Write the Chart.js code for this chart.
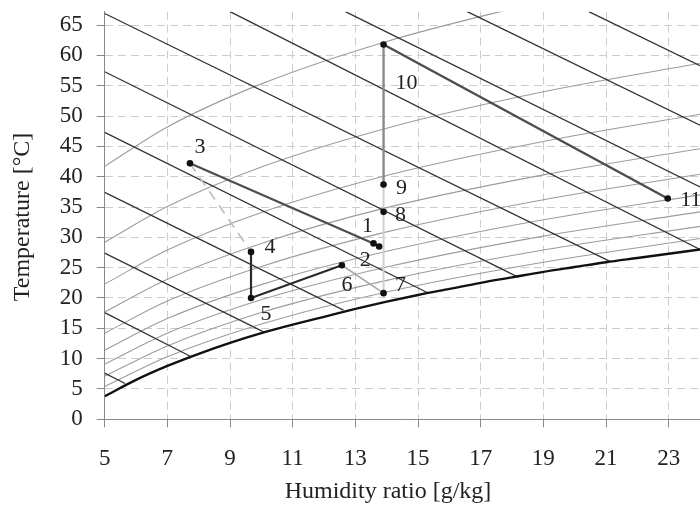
<!DOCTYPE html>
<html>
<head>
<meta charset="utf-8">
<script src="https://cdn.jsdelivr.net/npm/chart.js@4"></script>
<style>
  html, body { margin: 0; padding: 0; background: #fff; }
</style>
</head>
<body>
<canvas id="psychroChart" width="700" height="511"></canvas>
<script>
const X_TICKS = [5, 7, 9, 11, 13, 15, 17, 19, 21, 23];
const Y_TICKS = [0, 5, 10, 15, 20, 25, 30, 35, 40, 45, 50, 55, 60, 65];

// saturation curve (RH 100%)
const SAT_W = [5, 6, 7, 8, 9, 10, 11, 12, 13, 14, 15, 16, 17, 18, 19, 20, 21, 22, 23, 24];
const SAT_T = [3.8, 6.5, 8.8, 10.8, 12.6, 14.2, 15.6, 16.9, 18.2, 19.4, 20.5, 21.5, 22.5, 23.4, 24.3, 25.1, 25.9, 26.6, 27.3, 28.0];

// relative humidity curves 10% .. 90%
const RH_W = [5, 7, 10, 14, 19, 24];
const RH10 = [41.7, 48.2, 55.3, 62.3, 69.0];
const RH20 = [29.2, 35.1, 41.6, 48.0, 54.0, 58.7];
const RH30 = [22.3, 27.9, 34.1, 40.2, 45.8, 50.3];
const RH40 = [17.7, 23.1, 29.0, 34.9, 40.3, 44.6];
const RH50 = [14.2, 19.5, 25.2, 30.9, 36.2, 40.4];
const RH60 = [11.4, 16.6, 22.2, 27.7, 32.9, 37.0];
const RH70 = [9.1, 14.2, 19.7, 25.1, 30.2, 34.2];
const RH80 = [7.1, 12.1, 17.6, 22.9, 27.9, 31.8];
const RH90 = [5.4, 10.3, 15.7, 21.0, 25.9, 29.8];

// constant enthalpy lines (20 .. 120 kJ/kg), start and end
const ENTH_W0 = [5, 5, 5, 5, 5, 5, 5, 9.0, 12.68, 16.57, 20.45];
const ENTH_T0 = [7.6, 17.6, 27.4, 37.4, 47.3, 57.3, 66.9, 67.2, 67.2, 67.2, 67.2];
const ENTH_W1 = [5.65, 7.73, 10.07, 12.62, 15.29, 18.21, 21.14, 24, 24, 24, 24];
const ENTH_T1 = [5.9, 10.4, 14.4, 18.0, 20.9, 23.4, 26.0, 28.0, 38.3, 48.5, 58.3];

// process states
const STATE_LABELS = ['1', '2', '3', '4', '5', '6', '7', '8', '9', '10', '11'];
const STATE_W = [13.58, 13.76, 7.72, 9.67, 9.67, 12.57, 13.9, 13.9, 13.9, 13.9, 22.97];
const STATE_T = [29.0, 28.5, 42.2, 27.6, 20.0, 25.4, 20.8, 34.2, 38.7, 61.8, 36.4];

// process paths between states (1-based)
const PATH_FROM = [3, 1, 3, 4, 5, 6, 7, 8, 9, 10];
const PATH_TO = [1, 2, 4, 5, 6, 7, 8, 9, 10, 11];

const pathStyle = [
    {color: '#4d4d4d', width: 2.2},
    {color: '#333333', width: 2},
    {color: '#bdbdbd', width: 1.6, dash: [10, 7]},
    {color: '#2b2b2b', width: 2.2},
    {color: '#2b2b2b', width: 2.2},
    {color: '#a8a8a8', width: 1.6},
    {color: '#d0d0d0', width: 2},
    {color: '#d0d0d0', width: 2},
    {color: '#8a8a8a', width: 2.4},
    {color: '#4d4d4d', width: 2.4}
];

// label nudges in px, per state
const labelNudge = [[-6, -17], [-14, 14], [10, -16], [19, -5], [15, 16], [5, 20],
                    [17, -8], [17, 3], [18, 4], [23, 39], [23, 2]];

Chart.defaults.font.family = "'Liberation Serif', 'DejaVu Serif', serif";
Chart.defaults.font.size = 23;
Chart.defaults.color = '#222';

function toPoints(ws, ts) {
    return ts.map((t, i) => ({x: ws[i], y: t}));
}

const datasets = [];

for (let rh of [RH10, RH20, RH30, RH40, RH50, RH60, RH70, RH80, RH90]) {
    datasets.push({
        data: toPoints(RH_W, rh),
        showLine: true,
        borderColor: '#9c9c9c',
        borderWidth: 1.1,
        pointRadius: 0,
        cubicInterpolationMode: 'monotone',
        order: 50
    });
}

for (let i = 0; i < ENTH_W0.length; i++) {
    datasets.push({
        data: [{x: ENTH_W0[i], y: ENTH_T0[i]}, {x: ENTH_W1[i], y: ENTH_T1[i]}],
        showLine: true,
        borderColor: '#333333',
        borderWidth: 1.3,
        pointRadius: 0,
        order: 40
    });
}

datasets.push({
    data: toPoints(SAT_W, SAT_T),
    showLine: true,
    borderColor: '#111111',
    borderWidth: 2.4,
    pointRadius: 0,
    cubicInterpolationMode: 'monotone',
    order: 30
});

for (let i = 0; i < PATH_FROM.length; i++) {
    const a = PATH_FROM[i] - 1;
    const b = PATH_TO[i] - 1;
    const st = pathStyle[i];
    datasets.push({
        data: [{x: STATE_W[a], y: STATE_T[a]}, {x: STATE_W[b], y: STATE_T[b]}],
        showLine: true,
        borderColor: st.color,
        borderWidth: st.width,
        borderDash: st.dash || [],
        pointRadius: 0,
        order: 20
    });
}

datasets.push({
    data: toPoints(STATE_W, STATE_T),
    showLine: false,
    pointRadius: 3.3,
    pointBackgroundColor: '#111',
    pointBorderWidth: 0,
    order: 10
});

const stateLabels = {
    id: 'stateLabels',
    afterDatasetsDraw(chart) {
        const {ctx, scales: {x, y}} = chart;
        ctx.save();
        ctx.font = "22px 'Liberation Serif', serif";
        ctx.fillStyle = '#222';
        ctx.textAlign = 'center';
        ctx.textBaseline = 'middle';
        STATE_LABELS.forEach((lab, i) => {
            const px = x.getPixelForValue(STATE_W[i]) + labelNudge[i][0];
            const py = y.getPixelForValue(STATE_T[i]) + labelNudge[i][1];
            ctx.fillText(lab, px, py);
        });
        ctx.restore();
    }
};

const axisTitles = {
    id: 'axisTitles',
    afterDraw(chart) {
        const ctx = chart.ctx;
        ctx.save();
        ctx.font = "24px 'Liberation Serif', serif";
        ctx.fillStyle = '#222';
        ctx.textAlign = 'center';
        ctx.textBaseline = 'middle';
        ctx.fillText('Humidity ratio [g/kg]', 388, 492);
        ctx.translate(23, 217);
        ctx.rotate(-Math.PI / 2);
        ctx.fillText('Temperature [°C]', 0, 0);
        ctx.restore();
    }
};

const psychroChart = new Chart(document.getElementById('psychroChart'), {
    type: 'scatter',
    data: {datasets: datasets},
    options: {
        responsive: false,
        animation: false,
        devicePixelRatio: 1,
        layout: {autoPadding: false, padding: {top: 11.7, right: 0, left: 0, bottom: 0}},
        plugins: {legend: {display: false}, tooltip: {enabled: false}},
        scales: {
            x: {
                type: 'linear',
                min: 5,
                max: 24,
                afterBuildTicks: (scale) => { scale.ticks = X_TICKS.map(v => ({value: v})); },
                afterFit: (scale) => {
                    scale.height = 91.7;
                    scale.paddingLeft = 0;
                    scale.paddingRight = 0;
                },
                ticks: {padding: 18, maxRotation: 0, autoSkip: false},
                grid: {color: '#cccccc', lineWidth: 1, tickColor: '#888', tickLength: 8},
                border: {color: '#888', width: 1, dash: [8, 5]}
            },
            y: {
                type: 'linear',
                min: 0,
                max: 67.2,
                afterBuildTicks: (scale) => { scale.ticks = Y_TICKS.map(v => ({value: v})); },
                afterFit: (scale) => {
                    scale.width = 104.7;
                    scale.paddingTop = 0;
                    scale.paddingBottom = 0;
                },
                ticks: {padding: 14, autoSkip: false},
                grid: {color: '#cccccc', lineWidth: 1, tickColor: '#888', tickLength: 8},
                border: {color: '#888', width: 1, dash: [8, 5]}
            }
        }
    },
    plugins: [stateLabels, axisTitles]
});
</script>
</body>
</html>
